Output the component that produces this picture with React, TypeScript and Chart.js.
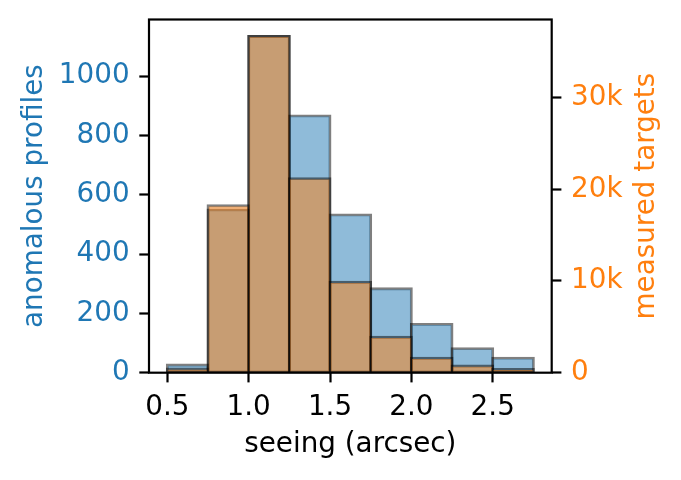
import React, { useEffect, useRef } from 'react';
import { Chart, registerables } from 'chart.js';

Chart.register(...registerables);

// Histogram bins (seeing, arcsec): bin centers, bin width 0.25
const binCenters = [0.625, 0.875, 1.125, 1.375, 1.625, 1.875, 2.125, 2.375, 2.625];
const anomalousProfiles = [26, 549, 1134, 866, 532, 283, 163, 81, 49];
const measuredTargets = [400, 18200, 36680, 21160, 9860, 3860, 1570, 730, 370];
const xTicks = [0.5, 1.0, 1.5, 2.0, 2.5];
const leftTicks = [0, 200, 400, 600, 800, 1000];
const rightTicks = [0, 10000, 20000, 30000];
const binEdgesRange = [0.5, 2.75];

const FONT = 'DejaVu Sans';
const FS = 27.8;
const BLUE = '#1f77b4';
const ORANGE = '#ff7f0e';
const EDGE_W = 2.2;

export default function App() {
  const ref = useRef<HTMLCanvasElement | null>(null);

  useEffect(() => {
    const canvas = ref.current;
    if (!canvas) return;
    const span = binEdgesRange[1] - binEdgesRange[0];
    const xMin = binEdgesRange[0] - span * 0.05;
    const xMax = binEdgesRange[1] + span * 0.05;
    const leftMax = Math.max(...anomalousProfiles) * 1.05;
    const rightMax = Math.max(...measuredTargets) * 1.05;

    // matplotlib strokes patch edges centred on the outline; Chart.js insets them.
    const centerEdgePlugin = {
      id: 'centerEdges',
      beforeDatasetsDraw(chart: any) {
        chart.data.datasets.forEach((_d: any, di: number) => {
          const meta = chart.getDatasetMeta(di);
          meta.data.forEach((el: any) => {
            if (el.$edgeAdj) return;
            el.$edgeAdj = true;
            const h = EDGE_W / 2;
            el.y = el.y - h;
            el.base = el.base + h;
            el.width = el.width + EDGE_W;
          });
        });
      },
    };

    const framePlugin = {
      id: 'frameAndTitles',
      afterDatasetsDraw(chart: any) {
        const { ctx, chartArea } = chart;
        ctx.save();
        ctx.strokeStyle = '#000';
        ctx.lineWidth = 2.2;
        ctx.strokeRect(chartArea.left, chartArea.top, chartArea.right - chartArea.left, chartArea.bottom - chartArea.top);
        ctx.restore();
      },
      afterDraw(chart: any) {
        const { ctx, chartArea } = chart;
        const cy = (chartArea.top + chartArea.bottom) / 2;
        const cx = (chartArea.left + chartArea.right) / 2;
        ctx.save();
        ctx.font = `${FS}px "${FONT}"`;
        ctx.textAlign = 'center';
        ctx.textBaseline = 'alphabetic';
        ctx.fillStyle = '#000';
        ctx.fillText('seeing (arcsec)', cx, 452);
        ctx.save();
        ctx.translate(42, cy);
        ctx.rotate(-Math.PI / 2);
        ctx.fillStyle = BLUE;
        ctx.fillText('anomalous profiles', 0, 0);
        ctx.restore();
        ctx.save();
        ctx.translate(654, cy);
        ctx.rotate(-Math.PI / 2);
        ctx.fillStyle = ORANGE;
        ctx.fillText('measured targets', 0, 0);
        ctx.restore();
        ctx.restore();
      },
    };

    const tickGrid = {
      display: true,
      offset: false,
      drawOnChartArea: false,
      drawTicks: true,
      tickLength: 9.7,
      tickWidth: 2.2,
      tickColor: '#000',
    };

    const noPad = (s: any) => {
      s.paddingTop = 0;
      s.paddingBottom = 0;
      s.paddingLeft = 0;
      s.paddingRight = 0;
    };

    const chart = new Chart(canvas, {
      type: 'bar',
      data: {
        datasets: [
          {
            label: 'anomalous profiles',
            data: binCenters.map((x, i) => ({ x, y: anomalousProfiles[i] })),
            backgroundColor: 'rgba(31,119,180,0.5)',
            borderColor: 'rgba(0,0,0,0.5)',
            borderWidth: EDGE_W,
            borderSkipped: false,
            grouped: false,
            barPercentage: 1,
            categoryPercentage: 1,
            yAxisID: 'y',
            order: 2,
          } as any,
          {
            label: 'measured targets',
            data: binCenters.map((x, i) => ({ x, y: measuredTargets[i] })),
            backgroundColor: 'rgba(255,127,14,0.5)',
            borderColor: 'rgba(0,0,0,0.5)',
            borderWidth: EDGE_W,
            borderSkipped: false,
            grouped: false,
            barPercentage: 1,
            categoryPercentage: 1,
            yAxisID: 'y1',
            order: 1,
          } as any,
        ],
      },
      options: {
        animation: false,
        responsive: false,
        devicePixelRatio: 1,
        layout: { padding: { top: 19.5, left: 0, right: 0, bottom: 0 } },
        plugins: { legend: { display: false }, tooltip: { enabled: false } },
        scales: {
          x: {
            type: 'linear',
            min: xMin,
            max: xMax,
            offset: false,
            grid: tickGrid,
            border: { display: false },
            afterBuildTicks: (s: any) => { s.ticks = xTicks.map((v) => ({ value: v })); },
            afterFit: (s: any) => { s.height = 107.3; noPad(s); },
            ticks: {
              color: '#000',
              font: { family: FONT, size: FS },
              padding: 8.5,
              maxRotation: 0,
              autoSkip: false,
              callback: (v: any) => Number(v).toFixed(1),
            },
          },
          y: {
            type: 'linear',
            position: 'left',
            min: 0,
            max: leftMax,
            grid: tickGrid,
            border: { display: false },
            afterBuildTicks: (s: any) => { s.ticks = leftTicks.map((v) => ({ value: v })); },
            afterFit: (s: any) => { s.width = 149; noPad(s); },
            ticks: {
              color: BLUE,
              font: { family: FONT, size: FS },
              padding: 9.7,
              autoSkip: false,
              callback: (v: any) => String(v),
            },
          },
          y1: {
            type: 'linear',
            position: 'right',
            min: 0,
            max: rightMax,
            grid: tickGrid,
            border: { display: false },
            afterBuildTicks: (s: any) => { s.ticks = rightTicks.map((v) => ({ value: v })); },
            afterFit: (s: any) => { s.width = 129.3; noPad(s); },
            ticks: {
              color: ORANGE,
              font: { family: FONT, size: FS },
              padding: 9.7,
              autoSkip: false,
              callback: (v: any) => (Number(v) === 0 ? '0' : `${Number(v) / 1000}k`),
            },
          },
        },
      },
      plugins: [centerEdgePlugin, framePlugin],
    } as any);

    return () => chart.destroy();
  }, []);

  return (
    <div style={{ position: 'absolute', left: 0, top: 0, width: 681, height: 480, background: '#fff' }}>
      <canvas ref={ref} width={681} height={480} style={{ display: 'block', width: 681, height: 480 }} />
    </div>
  );
}
